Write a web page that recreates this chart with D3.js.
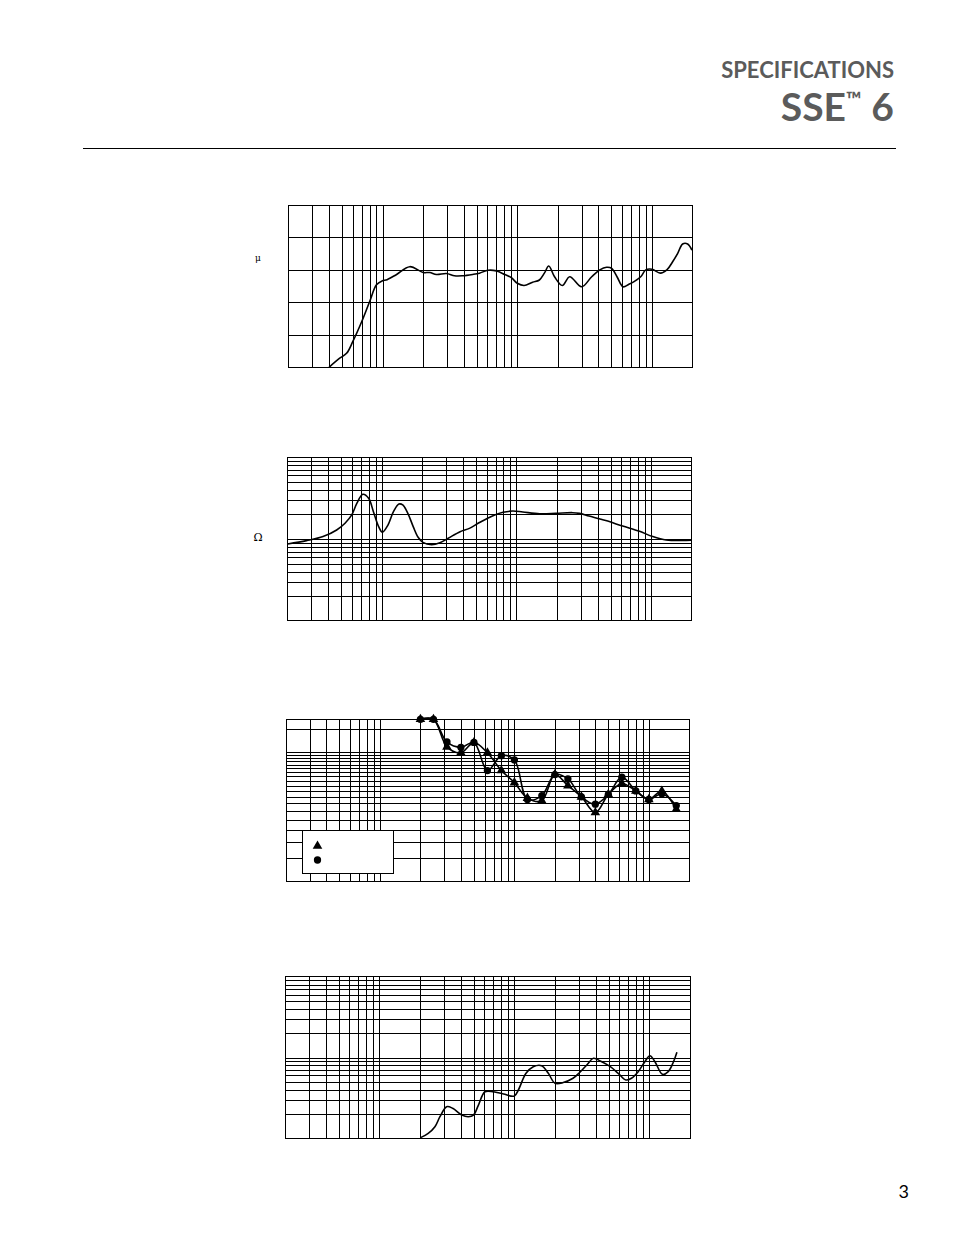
<!DOCTYPE html>
<html lang="en">
<head>
<meta charset="UTF-8">
<title>SSE 6 Specifications</title>
<script src="https://d3js.org/d3.v7.min.js"></script>
<style>
    body { margin: 0; background: #fff; }
    .grid line { stroke: #000; stroke-width: 1px; shape-rendering: crispEdges; }
    .grid path { display: none; }
    .frame { fill: none; stroke: #000; stroke-width: 1px; shape-rendering: crispEdges; }
    .curve { fill: none; stroke: #000; stroke-width: 1.6px; }
</style>
</head>
<body>
<svg width="954" height="1235"></svg>
<script>
    // shared frequency grid (log, 20 Hz - 20 kHz)
    let freqGrid = [30, 40, 50, 60, 70, 80, 90, 100, 200, 300, 400, 500, 600, 700, 800, 900,
        1000, 2000, 3000, 4000, 5000, 6000, 7000, 8000, 9000, 10000];

    // chart 1 : on-axis response (dB)
    let resFreq = [40, 48, 54, 60, 70, 80, 90, 99, 108, 127, 159, 200, 224, 251, 298, 342, 392, 466, 524, 606,
        700, 806, 903, 1000, 1122, 1300, 1459, 1589, 1713, 1890, 2160, 2450, 3000, 3570, 4100, 4600, 5020, 5500,
        6100, 6740, 7360, 8250, 9000, 10000, 11530, 12900, 14240, 15530, 16900, 18400, 19800];
    let resSpl = [60, 62.8, 64.3, 67.9, 74.1, 80.2, 85.4, 86.6, 87, 88.6, 91, 89.2, 89.2, 88.6, 88.9, 88.2, 88.2, 88.6, 89, 89.9,
        89.7, 88.6, 87.6, 85.9, 85.2, 86.2, 86.9, 89, 91.2, 87.9, 85.2, 87.9, 84.8, 87.9, 90, 90.8, 90.5, 87.9,
        84.8, 85.6, 86.4, 87.9, 90, 90.2, 89, 90, 92.5, 95.1, 98, 98, 96.1];
    let splTicks = [70, 80, 90, 100];

    // chart 2 : impedance (ohm)
    let impFreq = [20, 27.6, 36.6, 46.2, 53.3, 59.8, 65.2, 72.3, 79.8, 86.6, 94.7, 101, 111, 122, 134, 143, 156, 171, 186, 202,
        234, 270, 311, 381, 447, 531, 669, 795, 937, 1114, 1486, 1957, 2610, 2930, 3460, 4600, 6140, 8200, 10280, 12930,
        14500, 20000];
    let impOhm = [8.69, 9.55, 10.7, 12.9, 15.6, 19.7, 27.3, 35.3, 31.5, 21.6, 14.2, 12.1, 14.8, 21.6, 26.8, 26.1, 20.6, 14.2, 10.5, 9.1,
        8.5, 9, 10.2, 12.3, 13.5, 15.9, 19.3, 21.2, 22, 21.4, 20.4, 20.6, 21, 20.6, 19.1, 16.8, 14.4, 12.4, 10.7, 9.7,
        9.6, 9.7];
    let twoDecadeTicks = [2, 3, 4, 5, 6, 7, 8, 9, 10, 20, 30, 40, 50, 60, 70, 80, 90];

    // chart 3 : distortion, two series (third-octave points)
    let thdFreq = [200, 250, 315, 400, 500, 630, 800, 1000, 1250, 1600, 2000, 2500, 3150, 4000, 5000, 6300, 8000, 10000, 12500, 16000];
    let thdTriangle = [18, 18, 11.0, 9.9, 11.9, 9.9, 7.2, 5.8, 4.4, 4.2, 6.7, 5.5, 4.5, 3.4, 4.7, 5.7, 5.0, 4.3, 5.0, 3.6];
    let thdCircle = [18, 18, 12.0, 10.9, 11.9, 7.2, 9.4, 8.7, 4.3, 4.6, 6.7, 6.2, 4.5, 3.95, 4.7, 6.4, 5.0, 4.3, 4.75, 3.85];
    let thdTicks = [1.5, 2, 2.5, 3, 3.5, 4, 4.5, 5, 5.5, 6, 6.5, 7, 7.5, 8, 8.5, 9, 9.5, 10, 15];

    // chart 4
    let c4Freq = [202, 230, 258, 281, 315, 349, 408, 456, 498, 542, 606, 700, 831, 1000, 1070, 1220, 1380, 1590, 1785, 2000,
        2300, 2720, 3060, 3440, 3860, 4330, 5140, 5880, 6700, 7370, 8260, 9260, 10100, 11000, 12500, 13800, 15100, 16000];
    let c4Val = [1.02, 1.15, 1.39, 1.85, 2.46, 2.35, 1.94, 1.85, 1.94, 2.58, 3.77, 3.77, 3.53, 3.34, 3.96, 6.37, 7.69, 7.92, 6.37, 4.8,
        4.9, 5.53, 6.56, 8.08, 9.78, 9.06, 7.69, 6.37, 5.27, 5.53, 6.66, 8.87, 10.5, 8.87, 6.19, 6.7, 8.87, 11.6];

    let svg = d3.select('svg');

    // header
    svg.append('text').attr('x', 894).attr('y', 78).attr('text-anchor', 'end')
        .attr('font-family', 'Lato, sans-serif').attr('font-weight', 'bold').attr('font-size', 22)
        .attr('fill', '#5b5b5b').text('SPECIFICATIONS');
    let title = svg.append('text').attr('x', 894).attr('y', 121).attr('text-anchor', 'end')
        .attr('font-family', 'Lato, sans-serif').attr('font-weight', 'bold').attr('font-size', 39)
        .attr('fill', '#5b5b5b');
    title.append('tspan').text('SSE');
    title.append('tspan').attr('font-size', 21).attr('dy', -14).text('\u2122');
    title.append('tspan').attr('dy', 14).text('\u00a06');
    svg.append('line').attr('x1', 83).attr('x2', 896).attr('y1', 148.5).attr('y2', 148.5)
        .attr('stroke', '#000').attr('stroke-width', 1.2);
    svg.append('text').attr('x', 909).attr('y', 1198).attr('text-anchor', 'end')
        .attr('font-family', 'Lato, sans-serif').attr('font-size', 18).attr('fill', '#000').text('3');

    function drawChart(box, yScale, yTicks) {
        let xScale = d3.scaleLog().domain([20, 20000]).range([box.x0, box.x1]);
        let g = svg.append('g');
        g.append('g').attr('class', 'grid')
            .attr('transform', 'translate(0,' + box.y1 + ')')
            .call(d3.axisBottom(xScale).tickValues(freqGrid).tickSize(-(box.y1 - box.y0)).tickFormat(''));
        g.append('g').attr('class', 'grid')
            .attr('transform', 'translate(' + box.x0 + ',0)')
            .call(d3.axisLeft(yScale).tickValues(yTicks).tickSize(-(box.x1 - box.x0)).tickFormat(''));
        g.append('rect').attr('class', 'frame')
            .attr('x', box.x0).attr('y', box.y0)
            .attr('width', box.x1 - box.x0).attr('height', box.y1 - box.y0);
        return {g: g, x: xScale, y: yScale};
    }

    function drawCurve(c, xs, ys, curve) {
        let line = d3.line().x(function (d) { return c.x(d[0]); }).y(function (d) { return c.y(d[1]); })
            .curve(curve || d3.curveCatmullRom);
        c.g.append('path').attr('class', 'curve').attr('d', line(d3.zip(xs, ys)));
    }

    // chart 1
    let b1 = {x0: 288.5, x1: 692.5, y0: 205, y1: 367.3};
    let c1 = drawChart(b1, d3.scaleLinear().domain([60, 110]).range([b1.y1, b1.y0]), splTicks);
    drawCurve(c1, resFreq, resSpl);
    svg.append('text').attr('x', 258).attr('y', 261).attr('text-anchor', 'middle')
        .attr('font-family', 'DejaVu Serif, serif').attr('font-size', 9).text('\u03bc');

    // chart 2
    let b2 = {x0: 287.7, x1: 691.7, y0: 457.3, y1: 620.7};
    let c2 = drawChart(b2, d3.scaleLog().domain([1, 100]).range([b2.y1, b2.y0]), twoDecadeTicks);
    drawCurve(c2, impFreq, impOhm);
    svg.append('text').attr('x', 258).attr('y', 541).attr('text-anchor', 'middle')
        .attr('font-family', 'DejaVu Serif, serif').attr('font-size', 11).text('\u03a9');

    // chart 3
    let b3 = {x0: 286, x1: 689.3, y0: 719.3, y1: 881};
    let c3 = drawChart(b3, d3.scaleLog().domain([1, 18]).range([b3.y1, b3.y0]), thdTicks);
    drawCurve(c3, thdFreq, thdTriangle);
    drawCurve(c3, thdFreq, thdCircle);
    let triSym = d3.symbol().type(d3.symbolTriangle).size(40);
    let cirSym = d3.symbol().type(d3.symbolCircle).size(42);
    c3.g.selectAll('path.tri').data(d3.zip(thdFreq, thdTriangle)).join('path').attr('class', 'tri')
        .attr('d', triSym).attr('fill', '#000')
        .attr('transform', function (d) { return 'translate(' + c3.x(d[0]) + ',' + c3.y(d[1]) + ')'; });
    c3.g.selectAll('path.cir').data(d3.zip(thdFreq, thdCircle)).join('path').attr('class', 'cir')
        .attr('d', cirSym).attr('fill', '#000')
        .attr('transform', function (d) { return 'translate(' + c3.x(d[0]) + ',' + c3.y(d[1]) + ')'; });
    // legend
    let lg = c3.g.append('g').attr('transform', 'translate(302.5,830)');
    lg.append('rect').attr('width', 91).attr('height', 43.5).attr('fill', '#fff')
        .attr('stroke', '#000').attr('stroke-width', 1).attr('shape-rendering', 'crispEdges');
    lg.append('path').attr('d', triSym).attr('transform', 'translate(15,16)').attr('fill', '#000');
    lg.append('path').attr('d', cirSym).attr('transform', 'translate(15,30)').attr('fill', '#000');

    // chart 4
    let b4 = {x0: 285, x1: 690, y0: 976.7, y1: 1138.3};
    let c4 = drawChart(b4, d3.scaleLog().domain([1, 100]).range([b4.y1, b4.y0]), twoDecadeTicks);
    drawCurve(c4, c4Freq, c4Val);
</script>
</body>
</html>
